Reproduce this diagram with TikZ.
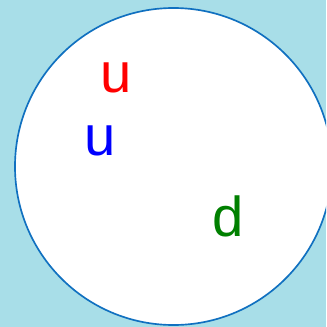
\documentclass[tikz,border=0pt]{standalone}
\usepackage{fontspec}
\setmainfont{Liberation Sans}
\usetikzlibrary{positioning}

\definecolor{waterbg}{HTML}{A8DEE8}
\definecolor{rimblue}{HTML}{1070C0}
\definecolor{qred}{HTML}{FF0000}
\definecolor{qblue}{HTML}{0000FF}
\definecolor{qgreen}{HTML}{008000}

\begin{document}
\begin{tikzpicture}[
    x=0.03cm, y=-0.03cm,
    quark/.style={
        inner sep=0pt,
        font=\fontsize{48}{48}\selectfont
    },
    cell/.style={
        circle,
        draw=rimblue,
        fill=white,
        line width=0.05cm,
        minimum size=9.51cm,
        inner sep=0pt
    }
]

% Frame and background
\useasboundingbox (0,0) rectangle (326,327);
\clip (0,0) rectangle (326,327);
\fill[waterbg] (0,0) rectangle (326,327);

% Hadron
\node[cell] (hadron) at (173.5,166.5) {};

% Quarks
\node[quark, text=qred] (up1) at (116,78) {u};
\node[quark, text=qblue] (up2) at (100,141) {u};
\node[quark, text=qgreen] (down) at (228,216) {d};

\end{tikzpicture}
\end{document}
